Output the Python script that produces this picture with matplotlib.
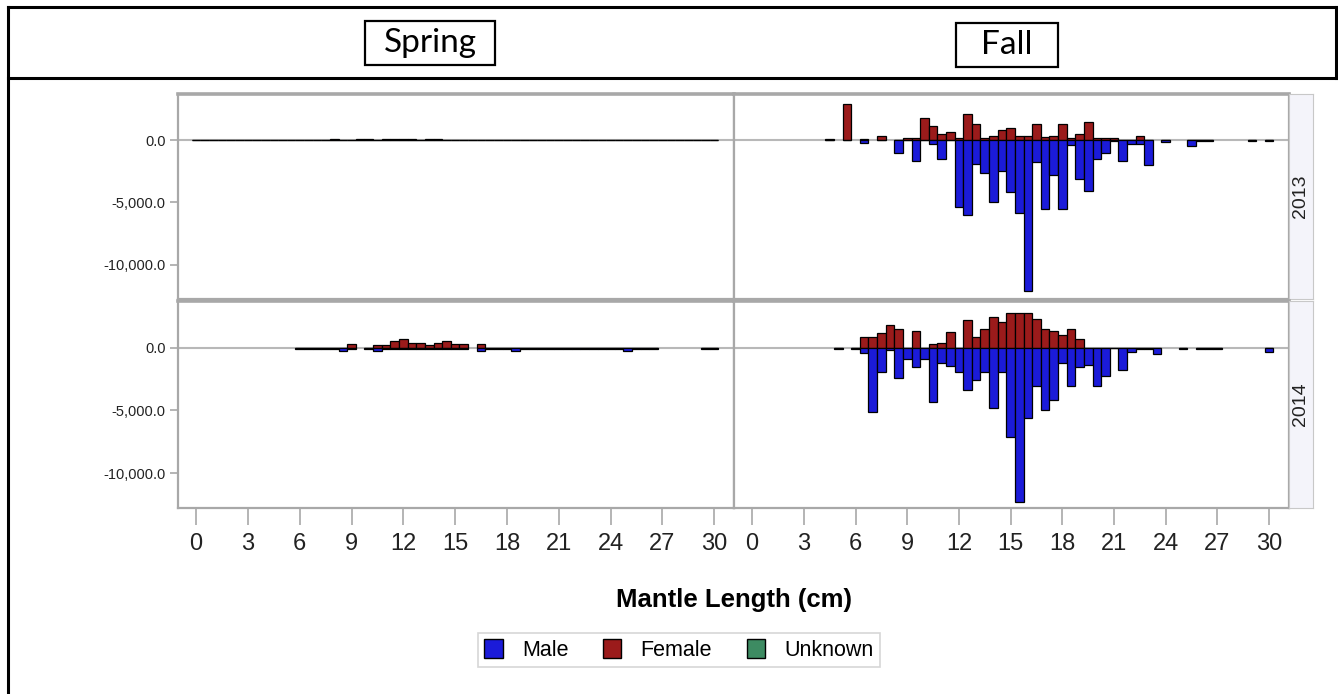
import numpy as np
import matplotlib
matplotlib.use("Agg")
import matplotlib.pyplot as plt
from matplotlib.patches import Patch, Rectangle
from matplotlib.lines import Line2D

W, H = 1338, 694
BLUE, RED, GREEN = "#1B1BD9", "#9B1B1B", "#3D8B62"
GRID = "#A8A8A8"
SANS = "Liberation Sans"

# mantle length bin centres (cm) with counts; male counts are plotted downwards
spring13_len = list(np.arange(0, 30.5, 0.5))
spring13_male = [0] * 61
spring13_female = [0] * 61
for c, v in [(8.0, 60), (9.5, 60), (10.0, 60), (11.0, 80), (11.5, 80), (12.0, 80),
             (12.5, 60), (13.5, 80), (14.0, 60)]:
    spring13_female[int(c * 2)] = v

spring14_len = [6.0, 6.5, 7.0, 7.5, 8.0, 8.5, 9.0, 10.0, 10.5, 11.0, 11.5, 12.0, 12.5, 13.0,
                13.5, 14.0, 14.5, 15.0, 15.5, 16.5, 17.0, 17.5, 18.0, 18.5, 19.0, 19.5, 20.0,
                20.5, 21.0, 21.5, 22.0, 22.5, 23.0, 23.5, 24.0, 24.5, 25.0, 25.5, 26.0, 26.5,
                29.5, 30.0]
spring14_male = [100, 100, 100, 100, 100, 300, 100, 100, 300, 100, 100, 100, 100, 100,
                 100, 100, 100, 100, 100, 300, 100, 100, 100, 300, 100, 100, 100,
                 100, 100, 100, 100, 100, 100, 100, 100, 100, 300, 100, 100, 100,
                 100, 100]
spring14_female = [0, 0, 0, 0, 0, 0, 270, 0, 200, 200, 550, 700, 400, 400,
                   200, 400, 550, 250, 250, 250, 0, 0, 0, 0, 0, 0, 0,
                   0, 0, 0, 0, 0, 0, 0, 0, 0, 0, 0, 0, 0,
                   0, 0]

fall13_len = [4.5, 5.5, 6.5, 7.5, 8.5, 9.0, 9.5, 10.0, 10.5, 11.0, 11.5, 12.0, 12.5, 13.0,
              13.5, 14.0, 14.5, 15.0, 15.5, 16.0, 16.5, 17.0, 17.5, 18.0, 18.5, 19.0, 19.5,
              20.0, 20.5, 21.0, 21.5, 22.0, 22.5, 23.0, 24.0, 25.5, 26.0, 26.5, 29.0, 30.0]
fall13_male = [0, 0, 200, 0, 1000, 0, 1640, 0, 320, 1500, 0, 5360, 6000, 1930,
               2600, 5000, 2470, 4200, 5840, 12100, 1770, 5500, 2800, 5500, 430, 3100, 4100,
               1500, 1000, 100, 1640, 300, 300, 1980, 150, 500, 100, 100, 100, 100]
fall13_female = [100, 2900, 100, 350, 0, 150, 150, 1770, 1150, 480, 640, 150, 2090, 1310,
                 160, 350, 780, 970, 300, 300, 1290, 220, 300, 1300, 150, 500, 1450,
                 150, 150, 150, 0, 0, 350, 0, 0, 0, 0, 0, 0, 0]

fall14_len = [5.0, 6.0, 6.5, 7.0, 7.5, 8.0, 8.5, 9.0, 9.5, 10.0, 10.5, 11.0, 11.5, 12.0,
              12.5, 13.0, 13.5, 14.0, 14.5, 15.0, 15.5, 16.0, 16.5, 17.0, 17.5, 18.0, 18.5,
              19.0, 19.5, 20.0, 20.5, 21.0, 21.5, 22.0, 22.5, 23.0, 23.5, 25.0, 26.0, 26.5,
              27.0, 30.0]
fall14_male = [100, 100, 450, 5150, 1930, 190, 2390, 940, 1580, 940, 4340, 1260, 1450, 1930,
               3350, 2550, 1930, 4830, 1930, 7080, 12250, 5600, 3060, 4960, 4160, 1260, 3060,
               1580, 1370, 3060, 2250, 50, 1800, 320, 100, 100, 500, 100, 100, 100,
               100, 350]
fall14_female = [0, 0, 830, 830, 1150, 1820, 1470, 0, 1340, 0, 270, 400, 1200, 0,
                 2170, 830, 1500, 2440, 2000, 2760, 2760, 2760, 2300, 1470, 1340, 970, 1470,
                 670, 0, 0, 0, 0, 0, 0, 0, 0, 0, 0, 0, 0,
                 0, 0]

panels = [[(spring13_len, spring13_male, spring13_female), (fall13_len, fall13_male, fall13_female)],
          [(spring14_len, spring14_male, spring14_female), (fall14_len, fall14_male, fall14_female)]]
years = ["2013", "2014"]
seasons = ["Spring", "Fall"]


def box(l, t, r, b):
    return [l / W, 1 - b / H, (r - l) / W, (b - t) / H]


fig = plt.figure(figsize=(W / 100, H / 100), dpi=100)

rows = [(94, 299), (301, 508)]
cols = [(178, 734), (734, 1289)]
for i, (t, b) in enumerate(rows):
    for j, (l, r) in enumerate(cols):
        ax = fig.add_axes(box(l, t, r, b))
        x, m, f = panels[i][j]
        ax.axhline(0, color="#B8B8B8", lw=1.5, zorder=1)
        ax.bar(x, f, width=0.5, color=RED, edgecolor="black", lw=0.9, zorder=2)
        ax.bar(x, -np.array(m), width=0.5, color=BLUE, edgecolor="black", lw=0.9, zorder=2)
        ax.set_xlim(-1.05, 31.15)
        ax.set_ylim(-12750, 3700)
        for s in ax.spines.values():
            s.set_color(GRID)
            s.set_linewidth(1.6)
        ax.spines["top"].set_linewidth(2.6)
        ax.set_xticks(range(0, 31, 3))
        ax.set_yticks([-10000, -5000, 0])
        ax.tick_params(axis="x", length=12, color=GRID, width=1.2, pad=6)
        ax.tick_params(axis="y", length=6, color=GRID, width=1.2, pad=3)
        if i == 1:
            ax.set_xticklabels([str(v) for v in range(0, 31, 3)], family=SANS, fontsize=17,
                               color="#222222")
        else:
            ax.tick_params(axis="x", length=0, labelbottom=False)
        if j == 0:
            ax.set_yticklabels([f"{v:,.1f}" for v in [-10000, -5000, 0]], family=SANS,
                               fontsize=10.5, color="#222222")
        else:
            ax.tick_params(axis="y", length=0, labelleft=False)

    # year strip on the right
    sax = fig.add_axes(box(1289, t, 1313, b), facecolor="#F4F4FA")
    sax.set_xticks([])
    sax.set_yticks([])
    for s in sax.spines.values():
        s.set_color("#C8C8C8")
    sax.text(0.5, 0.5, years[i], rotation=90, ha="center", va="center", fontsize=14,
             family=SANS, color="#222222", transform=sax.transAxes)

fig.text(733.5 / W, 1 - 600 / H, "Mantle Length (cm)", ha="center", va="center",
         fontsize=18.5, fontweight="bold", family=SANS)

handles = [Patch(facecolor=BLUE, edgecolor="black", label="Male"),
           Patch(facecolor=RED, edgecolor="black", label="Female"),
           Patch(facecolor=GREEN, edgecolor="black", label="Unknown")]
leg = fig.legend(handles=handles, ncol=3, loc="center", bbox_to_anchor=(679 / W, 1 - 650 / H),
                 prop={"family": SANS, "size": 15.5}, frameon=True, fancybox=False,
                 edgecolor="#CCCCCC", handlelength=0.85, handleheight=0.95, handletextpad=0.9,
                 columnspacing=1.6, borderpad=0.3)
leg.get_frame().set_linewidth(1.2)


# header band with season titles and outer frame
def fline(x0, y0, x1, y1, lw):
    fig.add_artist(Line2D([x0 / W, x1 / W], [1 - y0 / H, 1 - y1 / H], color="black", lw=lw))


fline(8, 7, 1337, 7, 2.2)
fline(8, 78, 1337, 78, 2.2)
fline(8, 7, 8, H, 2.2)
fline(1336, 7, 1336, 78, 2.2)

for name, (l, t, r, b) in zip(seasons, [(365, 21, 495, 65), (956, 23, 1058, 67)]):
    fig.add_artist(Rectangle((l / W, 1 - b / H), (r - l) / W, (b - t) / H, fill=False,
                             ec="black", lw=1.6, transform=fig.transFigure))
    fig.text((l + r) / 2 / W, 1 - (t + b) / 2 / H, name, ha="center", va="center",
             fontsize=24, family="Lato")

fig.savefig("out.png", dpi=100, facecolor="white")
